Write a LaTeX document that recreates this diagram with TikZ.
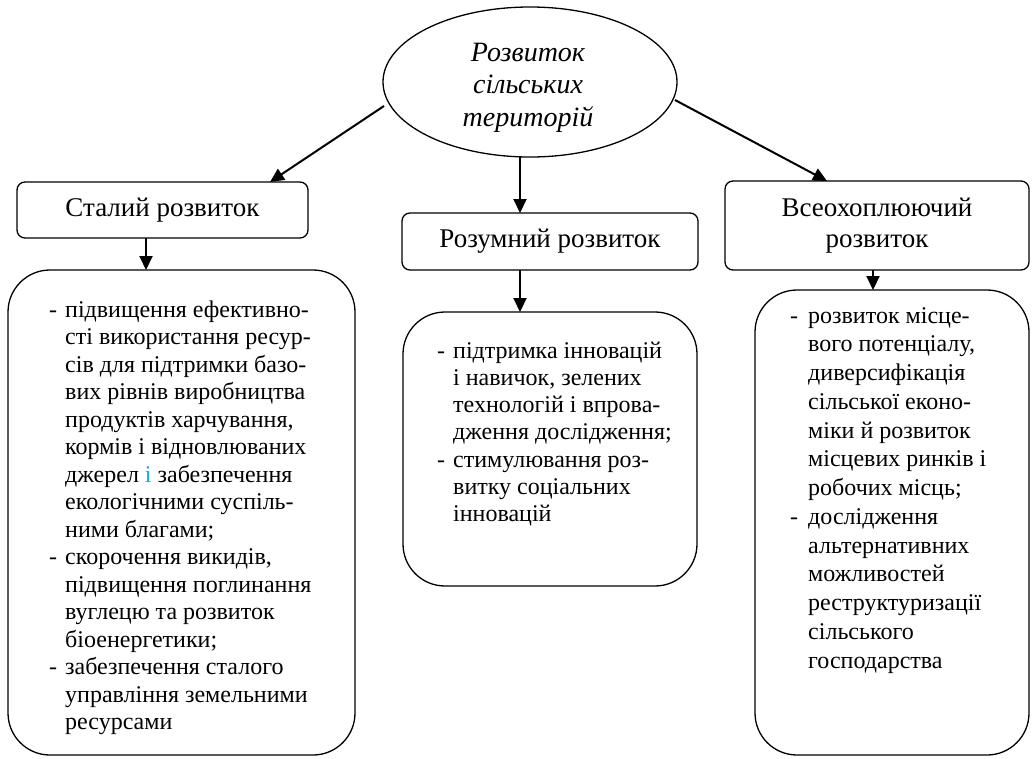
\documentclass[tikz,border=0pt]{standalone}
\usepackage{fontspec}
\setmainfont{Liberation Serif}
\usetikzlibrary{arrows.meta,shapes.geometric}
\definecolor{hl}{RGB}{0,176,240}
\tikzset{
  hdr/.style={draw, line width=1.3pt, rounded corners=8pt, inner sep=0pt, align=center,
    font=\fontsize{27}{31}\selectfont},
  cbox/.style={draw, line width=1.3pt, rounded corners=42pt, inner sep=0pt},
  arr/.style={line width=2pt, -{Triangle[length=14pt,width=13pt]}},
  lst/.style={inner sep=0pt, anchor=base west},
}
\newcommand{\dl}{\begin{tabular}[t]{@{}p{16pt}@{}l@{}}}
\begin{document}
\begin{tikzpicture}[x=1pt,y=-1pt]
\useasboundingbox (0,0) rectangle (1032,758);
% root
\node[draw, ellipse, line width=1.3pt, minimum width=294pt, minimum height=150pt, inner sep=0pt] (root) at (530,82) {};
\node[inner sep=0pt, anchor=base, font=\itshape\fontsize{28}{32.5}\selectfont] (roott) at (528,61)
  {\begin{tabular}[t]{@{}c@{}}Розвиток\\сільських\\територій\end{tabular}};
% headers
\node[hdr, minimum width=291pt, minimum height=56pt] (s1) at (162.5,210) {Сталий розвиток};
\node[hdr, minimum width=296pt, minimum height=57pt] (s2) at (550,241.5) {Розумний розвиток};
\node[hdr, minimum width=304pt, minimum height=89pt] (s3) at (877,225.5) {Всеохоплюючий\\розвиток};
% content boxes
\node[cbox, minimum width=347pt, minimum height=485pt] (c1) at (181.5,512.5) {};
\node[cbox, minimum width=294pt, minimum height=274pt] (c2) at (550,449) {};
\node[cbox, minimum width=274pt, minimum height=465pt] (c3) at (892,522.5) {};
% arrows
\coordinate (a1s) at (384,106); \coordinate (a1e) at (270,182);
\coordinate (a2s) at (520,157); \coordinate (a2e) at (520,213);
\coordinate (a3s) at (675,100); \coordinate (a3e) at (827,181);
\draw[arr] (a1s) -- (a1e);
\draw[arr] (a2s) -- (a2e);
\draw[arr] (a3s) -- (a3e);
\coordinate (b1s) at (146,238); \coordinate (b1e) at (146,270);
\coordinate (b2s) at (520,270); \coordinate (b2e) at (520,312);
\coordinate (b3s) at (873,270); \coordinate (b3e) at (873,290);
\draw[arr] (b1s) -- (b1e);
\draw[arr] (b2s) -- (b2e);
\draw[arr] (b3s) -- (b3e);
% texts
\node[lst, font=\fontsize{24}{27.5}\selectfont] (t1) at (49,317) {\dl
- & підвищення ефективно-\\
  & сті використання ресур-\\
  & сів для підтримки базо-\\
  & вих рівнів виробництва\\
  & продуктів харчування,\\
  & кормів і відновлюваних\\
  & джерел {\color{hl}і} забезпечення\\
  & екологічними суспіль-\\
  & ними благами;\\
- & скорочення викидів,\\
  & підвищення поглинання\\
  & вуглецю та розвиток\\
  & біоенергетики;\\
- & забезпечення сталого\\
  & управління земельними\\
  & ресурсами
\end{tabular}};
\node[lst, font=\fontsize{24}{27.3}\selectfont] (t2) at (437,358) {\dl
- & підтримка інновацій\\
  & і навичок, зелених\\
  & технологій і впрова-\\
  & дження дослідження;\\
- & стимулювання роз-\\
  & витку соціальних\\
  & інновацій
\end{tabular}};
\node[lst, font=\fontsize{24}{28.75}\selectfont] (t3) at (790,323) {\begin{tabular}[t]{@{}p{18pt}@{}l@{}}
- & розвиток місце-\\
  & вого потенціалу,\\
  & диверсифікація\\
  & сільської еконо-\\
  & міки й розвиток\\
  & місцевих ринків і\\
  & робочих місць;\\
- & дослідження\\
  & альтернативних\\
  & можливостей\\
  & реструктуризації\\
  & сільського\\
  & господарства
\end{tabular}};
\end{tikzpicture}
\end{document}
